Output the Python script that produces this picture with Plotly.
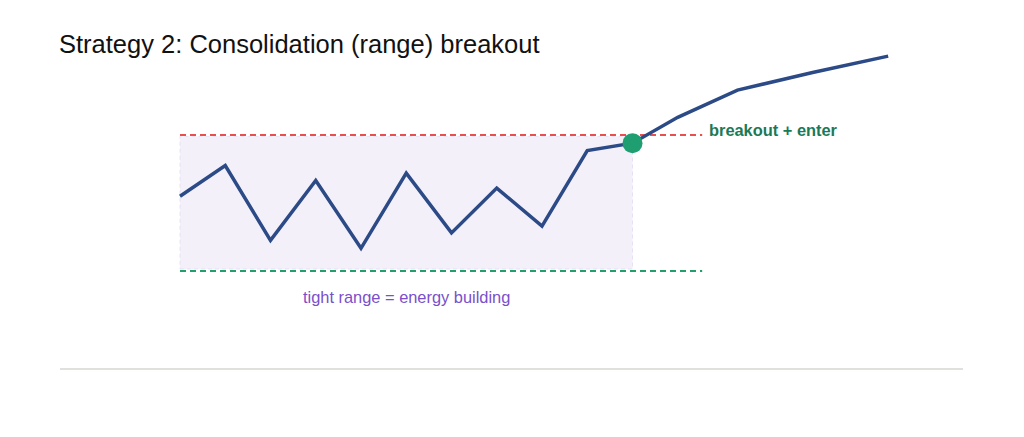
import plotly.graph_objects as go

# price path (time index, price)
t = [0, 1, 2, 3, 4, 5, 6, 7, 8, 9, 10, 11, 12.32, 13.98, 15.65]
price = [95.5, 97.75, 92.25, 96.65, 91.67, 97.2, 92.8, 96.1, 93.3, 98.85, 99.4,
         101.3, 103.3, 104.6, 105.8]

resistance = 100.0
support = 90.0
range_start, range_end = 0, 10
level_end = 11.54
breakout_t = [10]
breakout_p = [99.4]

title = "Strategy 2: Consolidation (range) breakout"
breakout_label = "breakout + enter"
range_label = "tight range = energy building"

FONT = "Liberation Sans, Arial, Helvetica, sans-serif"

fig = go.Figure()

# consolidation box
fig.add_trace(go.Scatter(
    x=[range_start, range_end, range_end, range_start, range_start],
    y=[support + 0.15, support + 0.15, resistance - 0.1, resistance - 0.1, support + 0.15],
    fill="toself", fillcolor="#f3f0fa", mode="lines",
    line=dict(color="rgba(225,220,240,0.8)", width=1, dash="4px,3px"),
    hoverinfo="skip", showlegend=False))

# resistance & support
fig.add_trace(go.Scatter(x=[range_start, level_end], y=[resistance, resistance],
                         mode="lines", line=dict(color="#e8504f", width=1.8, dash="6px,4px"),
                         hoverinfo="skip", showlegend=False))
fig.add_trace(go.Scatter(x=[range_start, level_end], y=[support, support],
                         mode="lines", line=dict(color="#22a06b", width=1.8, dash="6px,4px"),
                         hoverinfo="skip", showlegend=False))

# price line
fig.add_trace(go.Scatter(x=t, y=price, mode="lines",
                         line=dict(color="#2b4a86", width=3.5),
                         showlegend=False))

# breakout point
fig.add_trace(go.Scatter(x=breakout_t, y=breakout_p, mode="markers",
                         marker=dict(color="#1f9e72", size=20, line=dict(width=0)),
                         showlegend=False))

fig.add_annotation(x=level_end, y=resistance, text=f"<b>{breakout_label}</b>",
                   xanchor="left", yanchor="middle", xshift=5, yshift=5, showarrow=False,
                   font=dict(family=FONT, size=16.4, color="#1a7a58"))
fig.add_annotation(x=(range_start + range_end) / 2, y=support, text=range_label,
                   xanchor="center", yanchor="middle", yshift=-26, showarrow=False,
                   font=dict(family=FONT, size=16.4, color="#7a4fcb"))

fig.add_annotation(xref="paper", yref="paper", x=57 / 1024, y=1 - 44 / 437,
                   text=title, xanchor="left", yanchor="middle", showarrow=False,
                   font=dict(family=FONT, size=25.5, color="#111111"))

# divider
fig.add_shape(type="line", xref="paper", yref="paper",
              x0=60 / 1024, x1=963 / 1024, y0=1 - 369 / 437, y1=1 - 369 / 437,
              line=dict(color="#d6d6d2", width=1.5))

px_per_t = 45.25
px_per_p = 13.6
x0 = -180 / px_per_t
y_top = support + 271 / px_per_p
y_bot = support - (437 - 271) / px_per_p

fig.update_layout(
    width=1024, height=437,
    margin=dict(l=0, r=0, t=0, b=0),
    paper_bgcolor="white", plot_bgcolor="white",
    xaxis=dict(range=[x0, x0 + 1024 / px_per_t], visible=False, fixedrange=True),
    yaxis=dict(range=[y_bot, y_top], visible=False, fixedrange=True),
    showlegend=False,
)

fig.write_html("out.html")
